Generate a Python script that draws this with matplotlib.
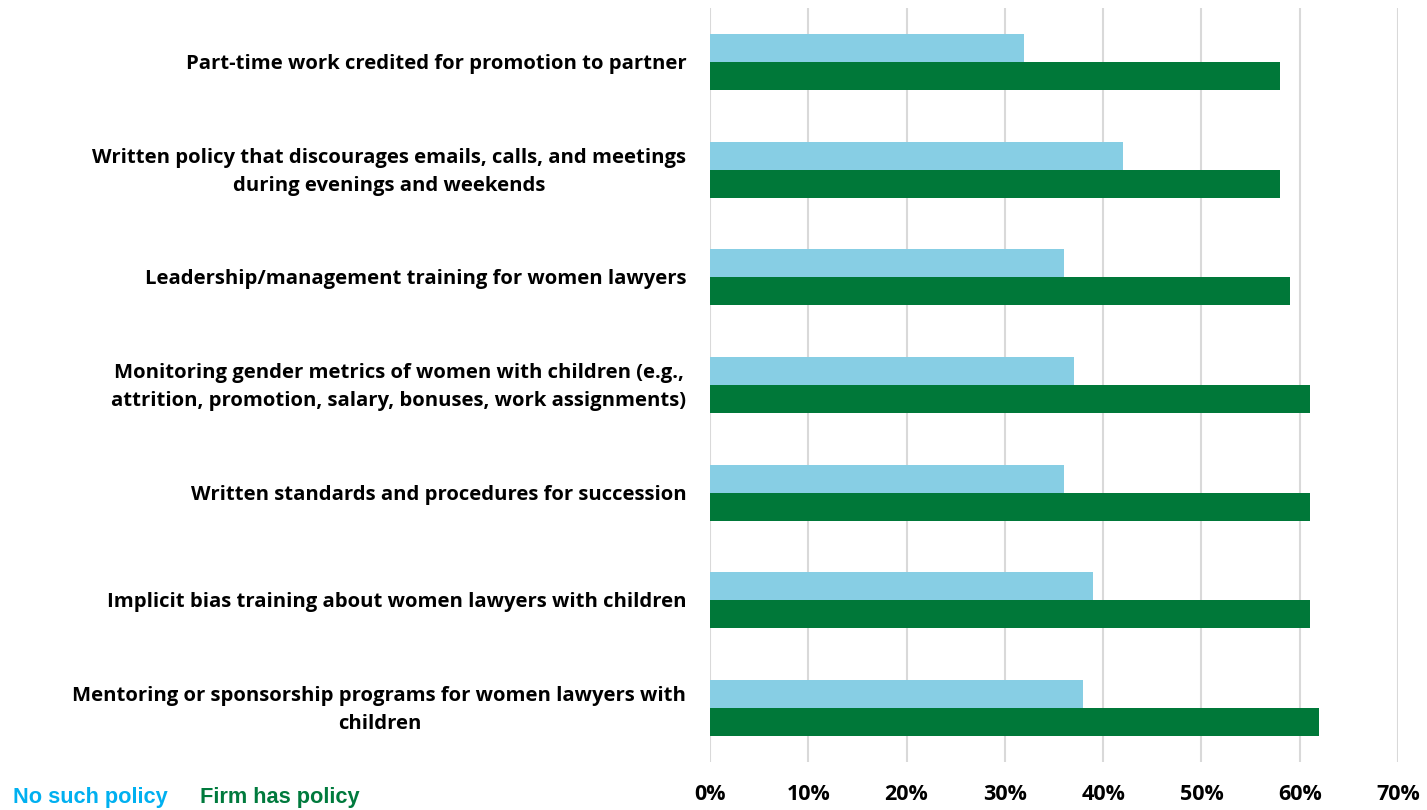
import matplotlib
matplotlib.use("Agg")
import matplotlib.pyplot as plt
import matplotlib.transforms as mtransforms
import numpy as np

# policy categories, top to bottom
policies = [
    "Part-time work credited for promotion to partner",
    "Written policy that discourages emails, calls, and meetings\nduring evenings and weekends",
    "Leadership/management training for women lawyers",
    "Monitoring gender metrics of women with children (e.g.,\nattrition, promotion, salary, bonuses, work assignments)",
    "Written standards and procedures for succession",
    "Implicit bias training about women lawyers with children",
    "Mentoring or sponsorship programs for women lawyers with\nchildren",
]
no_policy = [32, 42, 36, 37, 36, 39, 38]
has_policy = [58, 58, 59, 61, 61, 61, 62]
xticks = [0, 10, 20, 30, 40, 50, 60, 70]

light = "#87CEE4"
green = "#007839"

fig = plt.figure(figsize=(14.27, 8.10), dpi=100)
ax = fig.add_axes([0.4975, 0.0593, 0.9797 - 0.4975, 0.990 - 0.0593])

y = np.arange(len(policies))
h = 0.26
ax.barh(y - h / 2, no_policy, height=h, color=light, zorder=3)
ax.barh(y + h / 2, has_policy, height=h, color=green, zorder=3)

ax.set_xlim(0, 70)
ax.set_ylim(len(policies) - 0.5, -0.5)
ax.set_xticks(xticks)
ax.set_xticklabels([f"{t}%" for t in xticks], fontsize=15.5, fontweight="bold",
                   family="Open Sans")
ax.set_yticks(y)
ax.set_yticklabels(policies, fontsize=14.6, fontweight="bold", family="Open Sans",
                   ha="right", va="center", multialignment="center",
                   linespacing=1.55)
ax.tick_params(axis="y", length=0, pad=17)
ax.tick_params(axis="x", length=0, pad=16)
ax.xaxis.grid(True, color="#D9D9D9", linewidth=1.5, zorder=0)
for s in ax.spines.values():
    s.set_visible(False)

# nudge the category labels down a touch
shift = mtransforms.ScaledTranslation(0, -2 / 100, fig.dpi_scale_trans)
for lab in ax.get_yticklabels():
    lab.set_transform(lab.get_transform() + shift)

fig.text(13 / 1427, 1 - 797 / 810, "No such policy", color="#00B0F0",
         fontsize=15.7, fontweight="bold", family="Liberation Sans", va="center")
fig.text(200 / 1427, 1 - 797 / 810, "Firm has policy", color="#007A3D",
         fontsize=15.7, fontweight="bold", family="Liberation Sans", va="center")

fig.savefig("out.png", dpi=100)
